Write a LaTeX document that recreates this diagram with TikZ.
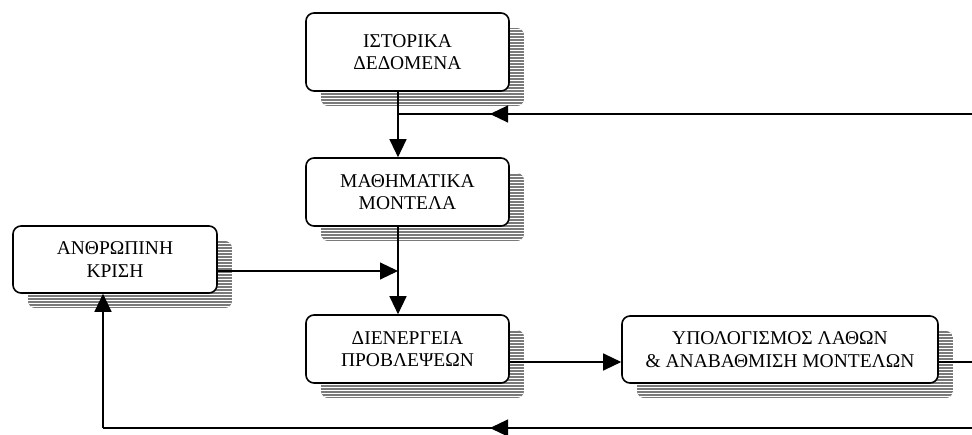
\documentclass[tikz,border=0pt]{standalone}
\usepackage{fontspec}
\setmainfont{Liberation Serif}
\usetikzlibrary{arrows.meta,calc}
\tikzset{
  box/.style={draw, line width=1.6pt, rounded corners=8pt, fill=white, align=center,
    inner sep=0pt, font=\fontsize{19.5}{22.5}\selectfont},
  conn/.style={line width=1.2pt},
  arr/.style={conn, -{Triangle[length=18pt,width=17pt]}},
  shadowfill/.style={fill=black!52},
  stripe/.style={white, line width=0.9pt},
}
\newcommand{\myshadow}[1]{%
  \begin{scope}
    \path[clip, rounded corners=8pt] ([shift={(15pt,-15pt)}]#1.south west) coordinate (sw) rectangle ([shift={(15pt,-15pt)}]#1.north east) coordinate (ne);
    \fill[shadowfill] (sw) rectangle (ne);
    \foreach \k in {0,...,30} {
      \draw[stripe] ($(sw)+(0,-3*\k-1.5)$) -- ++(400,0);
    }
  \end{scope}
}
\begin{document}
\begin{tikzpicture}[x=1pt,y=-1pt]
\useasboundingbox (0,0) rectangle (972,435);
\fill[white] (0,0) rectangle (972,435);
% positions (invisible placeholders for shadows)
\path (407.5,52) coordinate (p1) (407.5,192) coordinate (p2) (115,259.5) coordinate (p3)
      (407.5,349) coordinate (p4) (780,349.5) coordinate (p5);
\node[minimum width=203pt, minimum height=78pt, inner sep=0pt] (s1) at (p1) {};
\node[minimum width=203pt, minimum height=68pt, inner sep=0pt] (s2) at (p2) {};
\node[minimum width=204pt, minimum height=67pt, inner sep=0pt] (s3) at (p3) {};
\node[minimum width=203pt, minimum height=68pt, inner sep=0pt] (s4) at (p4) {};
\node[minimum width=316pt, minimum height=67pt, inner sep=0pt] (s5) at (p5) {};
\myshadow{s1}\myshadow{s2}\myshadow{s3}\myshadow{s4}\myshadow{s5}
% boxes
\node[box, minimum width=203pt, minimum height=78pt] (b1) at (p1) {ΙΣΤΟΡΙΚΑ\\ΔΕΔΟΜΕΝΑ};
\node[box, minimum width=203pt, minimum height=68pt] (b2) at (p2) {ΜΑΘΗΜΑΤΙΚΑ\\ΜΟΝΤΕΛΑ};
\node[box, minimum width=204pt, minimum height=67pt] (b3) at (p3) {ΑΝΘΡΩΠΙΝΗ\\ΚΡΙΣΗ};
\node[box, minimum width=203pt, minimum height=68pt] (b4) at (p4) {ΔΙΕΝΕΡΓΕΙΑ\\ΠΡΟΒΛΕΨΕΩΝ};
\node[box, minimum width=316pt, minimum height=67pt] (b5) at (p5) {ΥΠΟΛΟΓΙΣΜΟΣ ΛΑΘΩΝ\\\& ΑΝΑΒΑΘΜΙΣΗ ΜΟΝΤΕΛΩΝ};
% coordinates
\coordinate (jt) at (398,114);
\coordinate (rt) at (972,114);
\coordinate (mt) at (490,114);
\coordinate (jm) at (398,271);
\coordinate (r2) at (972,362);
\coordinate (rb) at (972,428);
\coordinate (mb) at (490,428);
\coordinate (lb) at (103,428);
% connectors
\draw[arr] (b1.south -| jt) -- (b2.north -| jt);
\draw[conn] (rt) -- (jt);
\draw[arr] (rt) -- (mt);
\draw[arr] (b2.south -| jt) -- (b4.north -| jt);
\draw[arr] (b3.east |- jm) -- (jm);
\draw[arr] (b4.east |- r2) -- (b5.west |- r2);
\draw[conn] (b5.east |- r2) -- (r2);
\draw[conn] (rb) -- (lb);
\draw[arr] (rb) -- (mb);
\draw[arr] (lb) -- (b3.south -| lb);
\end{tikzpicture}
\end{document}
